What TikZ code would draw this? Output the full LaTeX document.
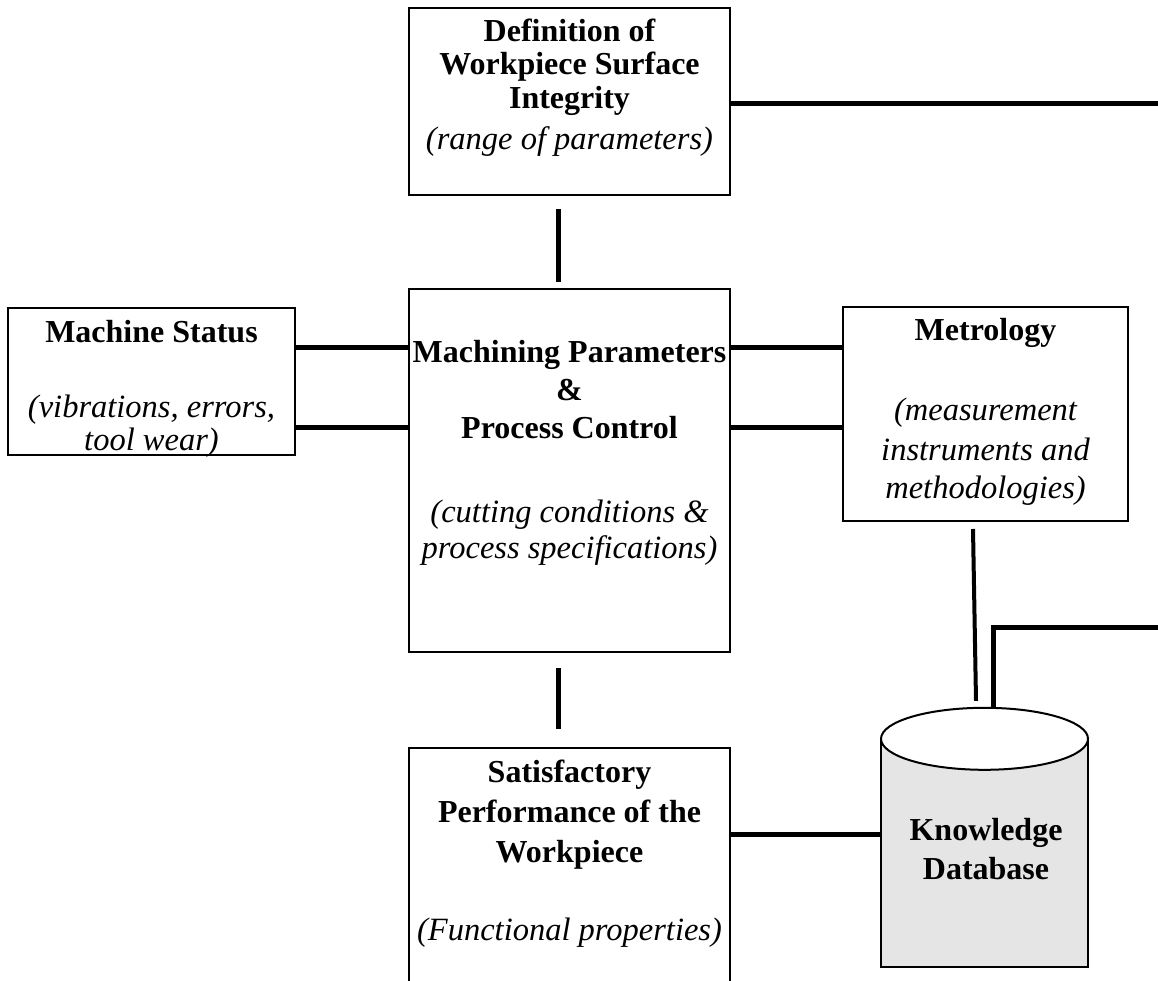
\documentclass[tikz,border=0pt]{standalone}
\usepackage{fontspec}
\setmainfont{Liberation Serif}
\begin{document}
\begin{tikzpicture}[x=1pt,y=-1pt,
  box/.style={draw, line width=2pt, inner sep=0pt, fill=white},
  conn/.style={line width=5pt},
  thinconn/.style={line width=4pt},
  bt/.style={font=\fontsize{32}{36}\selectfont\bfseries, anchor=base, inner sep=0pt},
  it/.style={font=\fontsize{32.5}{36}\selectfont\itshape, anchor=base, inner sep=0pt}]
\useasboundingbox (0,0) rectangle (1158,981);

% boxes
\node[box, minimum width=321pt, minimum height=187pt] (top) at (569.5,101.5) {};
\node[box, minimum width=287pt, minimum height=147pt] (ms) at (151.5,381.5) {};
\node[box, minimum width=321pt, minimum height=363pt] (main) at (569.5,470.5) {};
\node[box, minimum width=285pt, minimum height=214pt] (met) at (985.5,414) {};
\node[box, minimum width=321pt, minimum height=260pt] (bot) at (569.5,878) {};

% database cylinder
\node[inner sep=0pt, minimum width=207pt, minimum height=228pt] (db) at (984.5,853) {};
\fill[gray!20] (db.north west) rectangle (db.south east);
\draw[line width=2pt] (db.north west) -- (db.south west) -- (db.south east) -- (db.north east);
\draw[line width=2pt, fill=white] (db.north) ellipse [x radius=103.5, y radius=31];

% helper coordinates
\coordinate (h1) at (0,347);
\coordinate (h2) at (0,427);
\coordinate (h3) at (0,834);
\coordinate (R1) at (1158,104);
\coordinate (R2) at (1158,627);

% connectors
\draw[conn] (top.east |- R1) -- (R1);
\draw[conn] ([xshift=-11.5pt,yshift=-13pt]top.south) -- ([xshift=-11.5pt,yshift=6pt]main.north);
\draw[conn] (ms.east |- h1) -- (main.west |- h1);
\draw[conn] (ms.east |- h2) -- (main.west |- h2);
\draw[conn] (main.east |- h1) -- (met.west |- h1);
\draw[conn] (main.east |- h2) -- (met.west |- h2);
\draw[conn] ([xshift=-11.5pt,yshift=-15pt]main.south) -- ([xshift=-11.5pt,yshift=18pt]bot.north);
\draw[conn] (bot.east |- h3) -- (db.west |- h3);
\draw[thinconn] ([xshift=-12.5pt,yshift=-7pt]met.south) -- ([xshift=-8.5pt,yshift=38pt]db.north);
\draw[conn] (R2) -| ([xshift=8.5pt,yshift=31pt]db.north);

% texts
\node[bt] (t1) at (569.5,42) {Definition of};
\node[bt] (t2) at (569.5,75) {Workpiece Surface};
\node[bt] (t3) at (569.5,109) {Integrity};
\node[it] (t4) at (569.5,150) {(range of parameters)};

\node[bt] (m1) at (151.5,342) {Machine Status};
\node[it] (m2) at (151.5,417) {(vibrations, errors,};
\node[it] (m3) at (151.5,450) {tool wear)};

\node[bt] (p1) at (569.5,362) {Machining Parameters};
\node[bt] (p2) at (569.5,400) {\&};
\node[bt] (p3) at (569.5,438) {Process Control};
\node[it] (p4) at (569.5,522) {(cutting conditions \&};
\node[it] (p5) at (569.5,558) {process specifications)};

\node[bt] (g1) at (985.5,340) {Metrology};
\node[it] (g2) at (985.5,420) {(measurement};
\node[it] (g3) at (985.5,460) {instruments and};
\node[it] (g4) at (985.5,498) {methodologies)};

\node[bt] (s1) at (569.5,782) {Satisfactory};
\node[bt] (s2) at (569.5,822) {Performance of the};
\node[bt] (s3) at (569.5,862) {Workpiece};
\node[it] (s4) at (569.5,940) {(Functional properties)};

\node[bt] (k1) at (986,840) {Knowledge};
\node[bt] (k2) at (986,879) {Database};
\end{tikzpicture}
\end{document}
